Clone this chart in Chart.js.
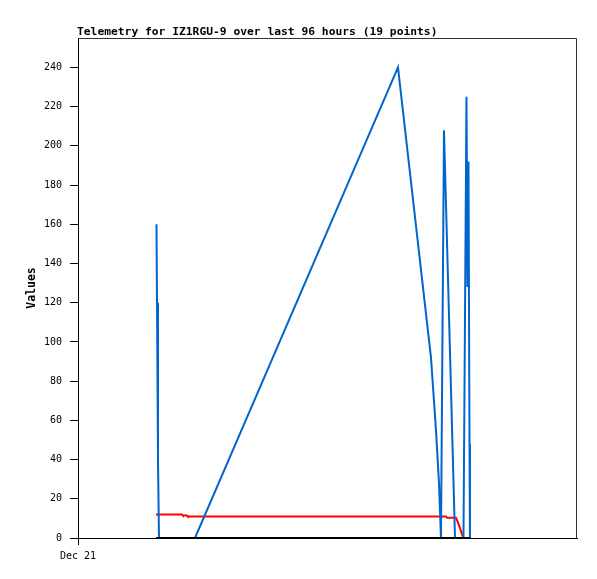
<!DOCTYPE html>
<html>
<head>
<meta charset="utf-8">
<style>
  body { margin: 0; background: #fff; }
</style>
</head>
<body>
<!-- Telemetry chart -->
<canvas id="telemetryChart" width="597" height="579"></canvas>

<script src="https://cdn.jsdelivr.net/npm/chart.js"></script>
<script>
    // Hours since Dec 21 00:00 (x) and values (y)
    var blueHours  = [15.10, 15.20, 15.39, 15.58, 22.51, 61.56, 67.91, 68.87, 69.45, 69.83, 70.41, 72.53, 74.16, 74.74, 74.93, 75.12, 75.32, 75.41];
    var blueValues = [160,   120,   40,    0,     0,     240,   92,    55,    28,    0,     208,   0,     0,     225,   128,   192,   48,    0];

    var redHours   = [15.01, 20.01, 20.20, 20.97, 21.16, 70.80, 71.00, 72.72, 73.10, 73.49, 73.87, 74.07];
    var redValues  = [12,    12,    11.5,  11.5,  11,    11,    10.3,  10.3,  8,     5,     2,     0.5];

    var blackHours  = [15.01, 75.41];
    var blackValues = [0,     0];

    var yTicks = [0, 20, 40, 60, 80, 100, 120, 140, 160, 180, 200, 220, 240];
    var xTicks = [0];
    var xTickLabels = ['Dec 21'];

    var titleText = 'Telemetry for IZ1RGU-9 over last 96 hours (19 points)';
    var yLabel = 'Values';

    function points(xs, ys) {
        return xs.map(function (x, i) { return { x: x, y: ys[i] }; });
    }

    // lower "order" is drawn on top
    var data = {
        datasets: [{
            label: 'blue',
            data: points(blueHours, blueValues),
            borderColor: '#0066cc',
            borderWidth: 2,
            pointRadius: 0,
            tension: 0,
            clip: false,
            order: 2
        }, {
            label: 'red',
            data: points(redHours, redValues),
            borderColor: '#ff0000',
            borderWidth: 2,
            pointRadius: 0,
            tension: 0,
            clip: false,
            order: 3
        }, {
            label: 'black',
            data: points(blackHours, blackValues),
            borderColor: '#000000',
            borderWidth: 2,
            pointRadius: 0,
            tension: 0,
            clip: false,
            order: 1
        }]
    };

    // title, y label and box around the plot
    var decorations = {
        id: 'decorations',
        afterDatasetsDraw: function (chart) {
            var ctx = chart.ctx;
            var a = chart.chartArea;
            ctx.save();
            ctx.strokeStyle = '#333';
            ctx.lineWidth = 1;
            ctx.beginPath();
            ctx.moveTo(a.left, a.top + 0.5);
            ctx.lineTo(a.right - 0.5, a.top + 0.5);
            ctx.lineTo(a.right - 0.5, a.bottom);
            ctx.stroke();

            ctx.fillStyle = '#000';
            ctx.font = 'bold 11.3px "DejaVu Sans Mono"';
            ctx.textAlign = 'left';
            ctx.textBaseline = 'alphabetic';
            ctx.fillText(titleText, 77, 35);

            ctx.translate(32, (a.top + a.bottom) / 2);
            ctx.rotate(-Math.PI / 2);
            ctx.font = 'bold 11.5px "DejaVu Sans Mono"';
            ctx.textAlign = 'center';
            ctx.textBaseline = 'middle';
            ctx.fillText(yLabel, 0, 0);
            ctx.restore();
        }
    };

    var options = {
        responsive: false,
        animation: false,
        layout: { padding: { top: 38, right: 20, left: 0, bottom: 0 } },
        plugins: {
            legend: { display: false },
            title: { display: false },
            tooltip: { enabled: false }
        },
        scales: {
            x: {
                type: 'linear',
                min: 0,
                max: 96,
                afterFit: function (scale) { scale.height = 41; },
                afterBuildTicks: function (scale) {
                    scale.ticks = xTicks.map(function (v) { return { value: v }; });
                },
                ticks: {
                    color: '#000',
                    font: { family: 'DejaVu Sans Mono', size: 10 },
                    padding: 5,
                    maxRotation: 0,
                    callback: function (v) { return xTickLabels[xTicks.indexOf(v)]; }
                },
                grid: { drawOnChartArea: false, color: '#000', tickLength: 7 },
                border: { color: '#000', width: 1 }
            },
            y: {
                min: 0,
                max: 255,
                afterFit: function (scale) { scale.width = 78; },
                afterBuildTicks: function (scale) {
                    scale.ticks = yTicks.map(function (v) { return { value: v }; });
                },
                ticks: {
                    color: '#000',
                    font: { family: 'DejaVu Sans Mono', size: 10 },
                    padding: 8
                },
                grid: { drawOnChartArea: false, color: '#000', tickLength: 8 },
                border: { color: '#000', width: 1 }
            }
        }
    };

    var ctx = document.getElementById('telemetryChart').getContext('2d');
    var telemetryChart = new Chart(ctx, { type: 'line', data: data, options: options, plugins: [decorations] });
</script>
</body>
</html>
